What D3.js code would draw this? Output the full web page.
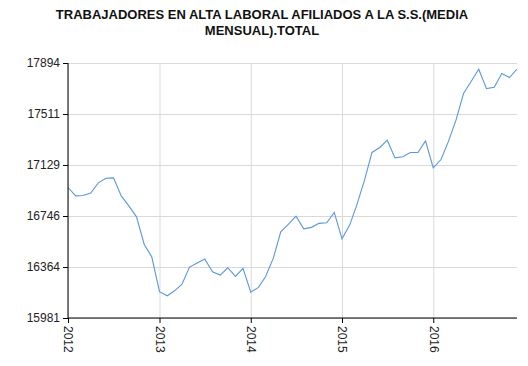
<!DOCTYPE html>
<html>
<head>
<meta charset="utf-8">
<script src="https://cdn.jsdelivr.net/npm/d3@7"></script>
<style>
  body { margin: 0; background: #fff; }
  svg { display: block; font-family: Arial, "Liberation Sans", sans-serif; }
  .grid line { stroke: #d9d9d9; stroke-width: 1; }
  .grid .domain { display: none; }
  .axis path, .axis line { stroke: #000; }
  .axis text { fill: #222; font-size: 12px; }
</style>
</head>
<body>
<script>
var margin = {top: 63, right: 11, bottom: 48, left: 68};
var width = 528 - margin.left - margin.right;
var height = 366 - margin.top - margin.bottom;

var titleLines = ["TRABAJADORES EN ALTA LABORAL AFILIADOS A LA S.S.(MEDIA", "MENSUAL).TOTAL"];

// miles de afiliados, media mensual (ene - dic)
var years = [2012, 2013, 2014, 2015, 2016];
var afiliados2012 = [16960, 16897, 16900, 16918, 16995, 17030, 17032, 16897, 16820, 16740, 16533, 16440];
var afiliados2013 = [16178, 16148, 16183, 16234, 16363, 16393, 16423, 16328, 16303, 16358, 16293, 16353];
var afiliados2014 = [16174, 16211, 16290, 16428, 16628, 16685, 16745, 16650, 16661, 16691, 16695, 16773];
var afiliados2015 = [16575, 16680, 16828, 17015, 17223, 17260, 17315, 17182, 17190, 17223, 17223, 17310];
var afiliados2016 = [17107, 17170, 17302, 17465, 17665, 17757, 17847, 17702, 17712, 17815, 17785, 17849];

var yMin = 15981, yMax = 17894;
var yTickCount = 5;

var series = [afiliados2012, afiliados2013, afiliados2014, afiliados2015, afiliados2016];
var data = [];
years.forEach(function(y, i) {
    series[i].forEach(function(v, m) {
        data.push({date: new Date(y, m, 1), value: v});
    });
});

var svg = d3.select("body").append("svg")
    .attr("width", 528)
    .attr("height", 366);

svg.append("text")
    .attr("x", 262)
    .attr("y", 19)
    .attr("text-anchor", "middle")
    .style("font-size", "13px")
    .style("font-weight", "bold")
    .style("fill", "#111")
    .selectAll("tspan").data(titleLines).enter().append("tspan")
    .attr("x", 262)
    .attr("dy", function(d, i) { return i ? 16 : 0; })
    .text(function(d) { return d; });

var chart = svg.append("g").attr("transform", `translate(${margin.left}, ${margin.top})`);

var xScale = d3.scaleTime()
    .domain(d3.extent(data, function(d) { return d.date; }))
    .range([0, width]);
var yScale = d3.scaleLinear().domain([yMin, yMax]).range([height, 0]);

var yTicks = d3.range(yTickCount + 1).map(function(i) { return yMin + i * (yMax - yMin) / yTickCount; });
var xTicks = years.map(function(y) { return new Date(y, 0, 1); });

//grid
chart.append("g").attr("class", "grid")
    .call(d3.axisLeft(yScale).tickValues(yTicks).tickSize(-width).tickFormat(""));
chart.append("g").attr("class", "grid")
    .attr("transform", `translate(0, ${height})`)
    .call(d3.axisBottom(xScale).tickValues(xTicks).tickSize(-height).tickFormat(""));

//line
var line = d3.line()
    .x(function(d) { return xScale(d.date); })
    .y(function(d) { return yScale(d.value); });

chart.append("path")
    .datum(data)
    .attr("fill", "none")
    .attr("stroke", "#5b97dc")
    .attr("stroke-width", 1.1)
    .attr("d", line);

//axes
chart.append("g").attr("class", "axis")
    .call(d3.axisLeft(yScale).tickValues(yTicks).tickSize(5).tickPadding(3)
        .tickFormat(d3.format(".0f")))
    .call(function(g) { g.select(".domain").attr("d", `M0,0V${height}`); });

var xAxis = chart.append("g").attr("class", "axis")
    .attr("transform", `translate(0, ${height})`)
    .call(d3.axisBottom(xScale).tickValues(xTicks).tickSize(5)
        .tickFormat(d3.timeFormat("%Y")))
    .call(function(g) { g.select(".domain").attr("d", `M0,0H${width}`); });

xAxis.selectAll("text")
    .attr("transform", "rotate(90)")
    .attr("x", 8)
    .attr("y", 0)
    .attr("dy", "0.35em")
    .attr("text-anchor", "start");
</script>
</body>
</html>
